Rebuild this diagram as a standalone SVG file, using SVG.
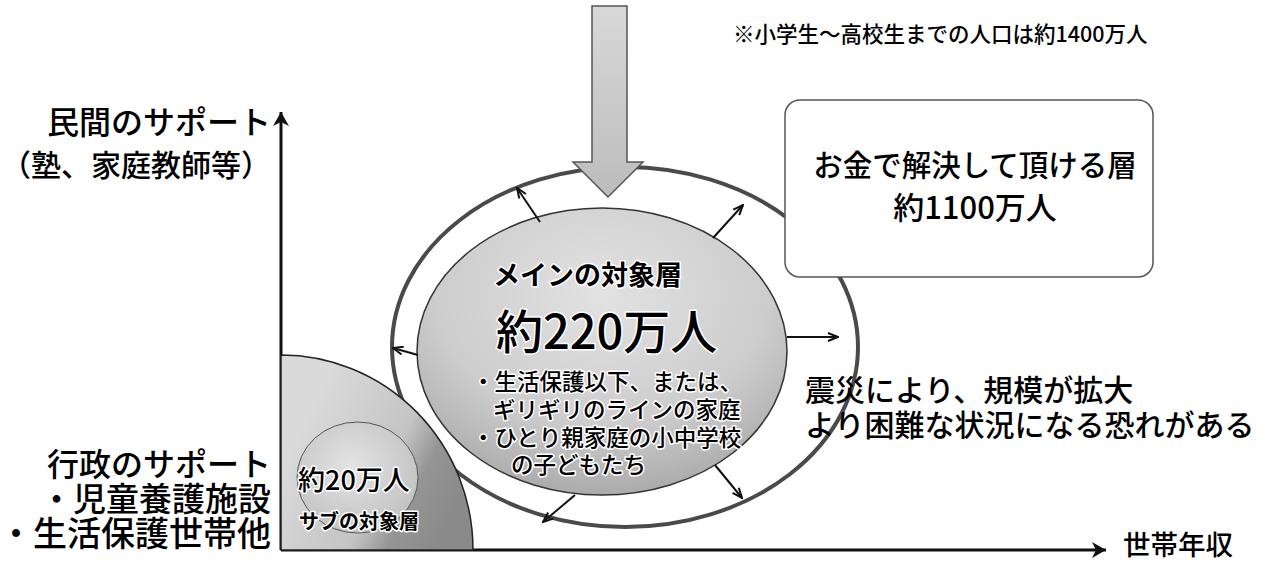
<svg xmlns="http://www.w3.org/2000/svg" width="1266" height="569" viewBox="0 0 1266 569">
<defs>
<style>
text{font-family:"Noto Sans CJK JP","Noto Sans CJK SC",sans-serif;fill:#000;font-weight:500}
.halo{stroke:#fff;stroke-width:3;paint-order:stroke;stroke-linejoin:round}
.b{font-weight:bold}
.conn{stroke:#111;stroke-width:2;fill:none}
.axis{stroke:#111;stroke-width:3;fill:none}
</style>
<marker id="ah" viewBox="0 0 12 10" refX="11" refY="5" markerWidth="12" markerHeight="10" markerUnits="userSpaceOnUse" orient="auto">
<path d="M1,1 L11,5 L1,9" fill="none" stroke="#111" stroke-width="2"/>
</marker>
<marker id="axh" viewBox="0 0 18 18" refX="16" refY="9" markerWidth="18" markerHeight="18" markerUnits="userSpaceOnUse" orient="auto">
<path d="M2,1 L16,9 L2,17 L6,9 Z" fill="#111"/>
</marker>
<radialGradient id="gInner" cx="0.5" cy="0.3" r="0.75">
<stop offset="0" stop-color="#e2e2e2"/>
<stop offset="0.6" stop-color="#cdcdcd"/>
<stop offset="1" stop-color="#a4a4a4"/>
</radialGradient>
<linearGradient id="gQuarter" x1="0.2" y1="0.2" x2="1" y2="0.6">
<stop offset="0" stop-color="#dadada"/>
<stop offset="0.55" stop-color="#c4c4c4"/>
<stop offset="0.75" stop-color="#959595"/>
<stop offset="1" stop-color="#8a8a8a"/>
</linearGradient>
<radialGradient id="gSmall" cx="0.45" cy="0.4" r="0.7">
<stop offset="0" stop-color="#e4e4e4"/>
<stop offset="1" stop-color="#bdbdbd"/>
</radialGradient>
<linearGradient id="gArrow" x1="0" y1="0" x2="0" y2="1">
<stop offset="0" stop-color="#d8d8d8"/>
<stop offset="1" stop-color="#bcbcbc"/>
</linearGradient>
</defs>
<rect width="1266" height="569" fill="#fff"/>

<g id="ring">
<ellipse cx="625" cy="347" rx="233" ry="180" fill="none" stroke="#4a4a4a" stroke-width="4"/>
</g>

<g id="main-layer">
<ellipse cx="602" cy="351.5" rx="185" ry="143.5" fill="url(#gInner)" stroke="#333" stroke-width="1.5"/>
<text x="493" y="285" font-size="27" class="b halo">メインの対象層</text>
<text x="496" y="349" font-size="47" class="halo">約220万人</text>
<text x="472" y="390" font-size="22.5" class="halo">・生活保護以下、または、</text>
<text x="493" y="418" font-size="22.5" class="halo">ギリギリのラインの家庭</text>
<text x="472" y="446" font-size="22.5" class="halo">・ひとり親家庭の小中学校</text>
<text x="511" y="473" font-size="22.5" class="halo">の子どもたち</text>
</g>

<g id="connectors">
<line class="conn" x1="540" y1="222" x2="517" y2="188" marker-end="url(#ah)"/>
<line class="conn" x1="713" y1="238" x2="743" y2="205" marker-end="url(#ah)"/>
<line class="conn" x1="787" y1="337" x2="838" y2="337" marker-end="url(#ah)"/>
<line class="conn" x1="418" y1="355" x2="393" y2="348" marker-end="url(#ah)"/>
<line class="conn" x1="575" y1="495" x2="543" y2="522" marker-end="url(#ah)"/>
<line class="conn" x1="715" y1="465" x2="742" y2="498" marker-end="url(#ah)"/>
<line class="axis" x1="281" y1="550" x2="281" y2="112" marker-end="url(#axh)"/>
<line class="axis" x1="281" y1="550" x2="1106" y2="550" marker-end="url(#axh)"/>
</g>

<g id="sub-area">
<path d="M281,550 L281,355 A192,195 0 0 1 473,550 Z" fill="url(#gQuarter)" stroke="#222" stroke-width="1.5"/>
</g>

<g id="sub-layer">
<ellipse cx="357.5" cy="477.5" rx="60.5" ry="55.5" fill="url(#gSmall)" stroke="#555" stroke-width="1"/>
<text x="298" y="490" font-size="27" class="halo">約20万人</text>
<text x="299" y="529" font-size="20" class="b halo">サブの対象層</text>
</g>

<g id="big-arrow">
<path d="M592,6 L627,6 L627,162 L643,162 L608,197 L573,162 L592,162 Z" fill="url(#gArrow)" stroke="#555" stroke-width="1.5"/>
</g>

<g id="paying-layer">
<rect x="785" y="100" width="368" height="177" rx="15" fill="#fff" stroke="#555" stroke-width="1.5"/>
<text x="975" y="176" font-size="29.5" text-anchor="middle">お金で解決して頂ける層</text>
<text x="975" y="219" font-size="31" text-anchor="middle">約1100万人</text>
</g>

<g id="labels">
<text x="733" y="42" font-size="21.5">※小学生～高校生までの人口は約1400万人</text>
<text x="271" y="134" font-size="32" text-anchor="end">民間のサポート</text>
<text x="271" y="176" font-size="30" text-anchor="end">（塾、家庭教師等）</text>
<text x="271" y="476" font-size="32" text-anchor="end">行政のサポート</text>
<text x="271" y="511" font-size="33" text-anchor="end">・児童養護施設</text>
<text x="271" y="546" font-size="34" text-anchor="end">・生活保護世帯他</text>
<text x="805" y="401" font-size="30">震災により、規模が拡大</text>
<text x="805" y="436" font-size="30">より困難な状況になる恐れがある</text>
<text x="1123" y="555" font-size="27.5">世帯年収</text>
</g>
</svg>
